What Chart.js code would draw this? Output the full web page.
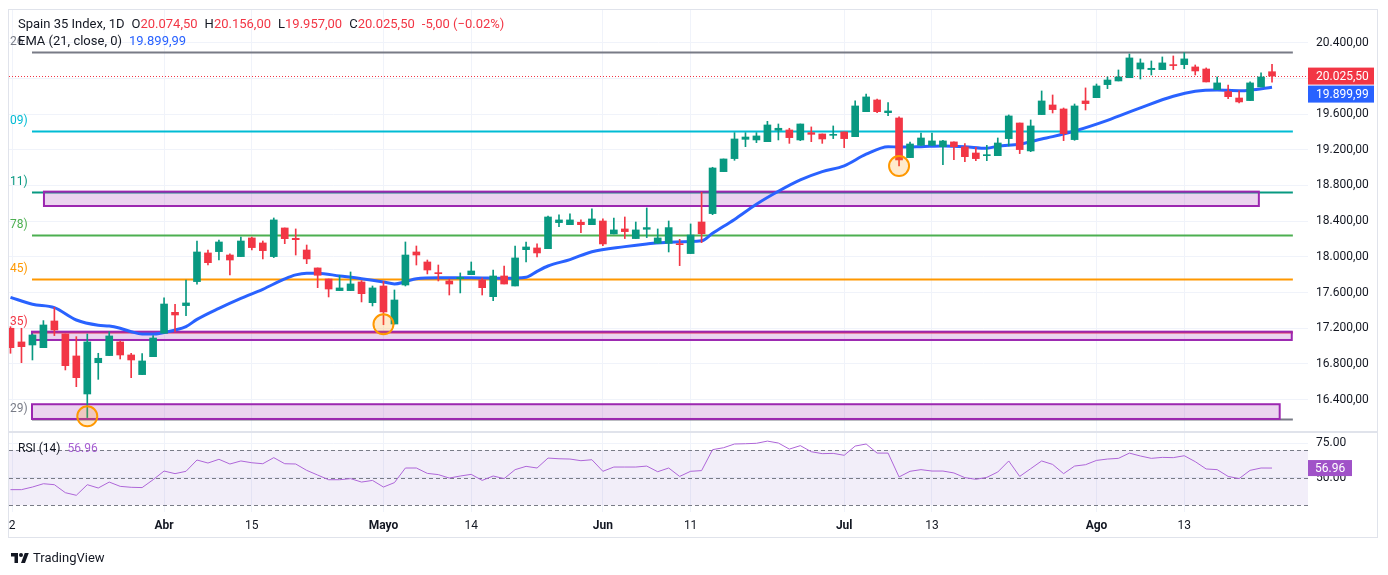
<!DOCTYPE html>
<html>
<head>
<meta charset="utf-8">
<script src="https://cdn.jsdelivr.net/npm/chart.js@4.4.1/dist/chart.umd.min.js"></script>
<style>
  html,body{margin:0;padding:0;background:#fff;}
  body{width:1388px;height:575px;overflow:hidden;position:relative;font-family:Roboto, "Noto Sans", sans-serif;color:#131722;}
  .abs{position:absolute;}
  #frame{left:8px;top:9px;width:1370px;height:529px;border:1px solid #E0E3EB;box-sizing:border-box;}
  #sep{left:9px;top:431px;width:1369px;height:2px;background:#E0E3EB;}
  .hdr{font-size:13px;white-space:nowrap;line-height:16px;}
  .r{color:#F23645;}
  .b{color:#2962FF;}
  .g{margin-left:7px;}
</style>
</head>
<body>
<div id="frame" class="abs"></div>
<canvas id="main" class="abs" style="left:9px;top:10px;" width="1370" height="422"></canvas>
<canvas id="rsi" class="abs" style="left:9px;top:432px;" width="1370" height="106"></canvas>
<div id="sep" class="abs"></div>
<div class="abs hdr" style="left:18px;top:16px;">Spain 35 Index, 1D<span class="g">O</span><span class="r">20.074,50</span><span class="g">H</span><span class="r">20.156,00</span><span class="g">L</span><span class="r">19.957,00</span><span class="g">C</span><span class="r">20.025,50</span><span class="r g">-5,00 (−0.02%)</span></div>
<div class="abs hdr" style="left:18px;top:33px;">EMA (21, close, 0)<span class="b g">19.899,99</span></div>
<div class="abs hdr" style="left:18px;top:440px;font-size:12px;">RSI (14)<span class="g" style="color:#A65FD2">56.96</span></div>
<div class="abs" style="left:10px;top:550px;display:flex;align-items:center;">
  <svg width="20" height="14" viewBox="0 0 36 28"><path d="M14 24H7V11H0V4h14v20z" fill="#131722"/><circle cx="20" cy="8" r="4" fill="#131722"/><path d="M28 24h-8l7.5-20h8L28 24z" fill="#131722"/></svg>
  <span style="font-size:13px;margin-left:3px;color:#131722;">TradingView</span>
</div>
<script>
// ---------- DATA ----------
const opens  = [17200,17047,17013,16983,17282,17136,16890,16464,16815,16894,17047,16901,16681,16882,17144,17379,17454,17723,18044,18059,18021,18003,18212,18156,18003,18324,18208,18077,17876,17752,17622,17622,17719,17487,17674,17248,17685,18055,17943,17823,17730,17756,17801,17741,17554,17786,17674,18081,18100,18092,18384,18361,18388,18361,18402,18257,18313,18205,18309,18152,18152,18148,18037,18391,18485,18955,19101,19317,19310,19291,19418,19422,19310,19392,19377,19362,19400,19347,19627,19758,19616,19556,19112,19250,19250,19235,19288,19232,19164,19134,19134,19325,19500,19187,19594,19702,19657,19314,19747,19784,19930,19971,20008,20105,20098,20098,20154,20154,20128,20105,19874,19852,19780,19751,19904,20074.5];
const highs  = [17218,17200,17136,17286,17435,17136,17106,17136,16920,17162,17058,16920,16916,17118,17540,17469,17741,18178,18077,18189,18033,18223,18223,18178,18436,18324,18313,18133,17876,17752,17794,17831,17734,17674,17726,17629,18167,18122,17965,17909,17752,17820,17943,17764,17853,17898,18122,18167,18145,18458,18470,18481,18414,18537,18425,18436,18447,18391,18548,18313,18402,18197,18369,18724,19004,19097,19392,19392,19392,19519,19489,19441,19489,19456,19377,19467,19400,19747,19825,19769,19728,19568,19287,19388,19388,19306,19288,19269,19228,19250,19332,19590,19500,19534,19859,19814,19668,19713,19893,19937,20016,20094,20273,20218,20195,20240,20251,20288,20150,20117,20016,19926,19859,19960,20061,20156];
const lows   = [16920,16815,16845,16983,17118,16733,16546,16200,16628,16894,16856,16647,16681,16882,17144,17162,17342,17693,17909,17965,17797,18003,18077,17977,17992,18148,18021,17924,17655,17551,17622,17622,17495,17450,17240,17248,17674,17909,17809,17730,17573,17596,17801,17573,17510,17696,17674,17943,17999,18092,18339,18361,18272,18361,18126,18257,18205,18205,18216,18152,18055,17902,18037,18160,18473,18955,19082,19235,19280,19291,19310,19272,19302,19291,19272,19325,19224,19347,19627,19616,19582,19018,19112,19250,19250,19034,19090,19067,19078,19078,19134,19243,19157,19179,19594,19612,19302,19306,19646,19784,19885,19971,20008,19993,20038,20098,20098,20109,20038,19960,19874,19773,19724,19751,19904,19957];
const closes = [16983,16994,17125,17237,17181,16781,16647,17047,16864,17114,16901,16845,16834,17091,17472,17349,17484,18055,17935,18167,17965,18178,18104,18070,18414,18204,18193,17977,17794,17640,17652,17697,17588,17652,17383,17517,18021,18021,17853,17812,17696,17771,17842,17655,17786,17696,17988,18111,18044,18447,18414,18414,18361,18425,18145,18302,18283,18302,18328,18212,18328,18137,18245,18260,18996,19097,19321,19343,19355,19478,19441,19336,19489,19373,19321,19373,19325,19691,19792,19627,19635,19086,19265,19332,19299,19299,19235,19123,19101,19142,19276,19579,19202,19467,19747,19650,19381,19691,19717,19915,19982,20016,20229,20173,20113,20173,20143,20218,20083,19960,19949,19795,19736,19949,20016,20025.5];

const rsiValues = [41.3,41.3,43.2,45.6,44.9,39.1,37.2,44.9,42.5,46.8,43.7,43.0,42.8,48.5,54.8,52.9,54.6,62.8,60.6,63.3,59.9,62.1,60.8,60.1,64.5,60.1,59.9,55.3,51.9,48.5,48.5,49.3,46.8,48.0,43.2,46.4,57.0,57.0,53.1,52.2,49.7,51.2,52.4,48.0,51.2,49.3,55.8,58.2,57.0,64.2,63.7,63.5,62.3,63.0,54.6,57.7,57.7,57.7,58.4,54.3,57.0,50.9,54.6,55.1,70.3,71.7,74.4,74.6,74.9,76.5,75.1,70.7,73.2,68.8,67.4,67.6,66.2,72.9,74.4,67.8,67.8,50.5,54.6,55.8,54.8,54.8,53.4,50.0,48.8,50.2,54.1,62.1,50.9,56.5,62.1,59.6,52.9,58.4,59.4,62.5,63.5,64.0,67.8,65.7,64.0,64.7,64.5,65.9,61.6,56.3,55.8,50.9,49.3,55.3,57.0,56.96];

const emaBars   = [0,2,4,6,8,9,10,11,12,13,15,16,17,19,21,23,25,26,27,28,30,32,34,35,36,37,39,42,45,47,48,49,51,53,56,58,60,63,64,66,68,70,72,74,76,78,80,81,83,85,87,89,90,92,94,95,97,100,103,106,108,110,112,113,115];
const emaValues = [17547,17469,17431,17293,17234,17226,17200,17162,17136,17136,17181,17218,17300,17424,17536,17637,17753,17798,17816,17816,17786,17756,17719,17697,17722,17756,17767,17767,17760,17772,17838,17898,17970,18058,18115,18145,18165,18180,18264,18420,18590,18735,18862,18955,19020,19150,19235,19230,19235,19243,19235,19217,19240,19262,19320,19347,19410,19530,19670,19800,19855,19870,19862,19868,19900];

const lastClose = 20025.5;
const lastEma = 19899.99;
const lastRsi = 56.96;

// horizontal levels (price) drawn from bar 2 to bar 117
const levelValues = [20300, 19414, 18731, 18249, 17756, 17162, 16184];
const levelTags   = ['26', '09)', '11)', '78)', '45)', '35)', '29)'];
const levelFrom = 1.96, levelTo = 116.9;

// zones: [fromBar, toBar, low, high]
const zones = [[3.05,113.8,18570,18731],[1.96,116.8,17069,17162],[1.96,115.7,16184,16349]];

// circled lows: [bar, price]
const markers = [[7,16214],[34,17245],[81,19018]];

const priceTicks = [16400,16800,17200,17600,18000,18400,18800,19200,19600,20000,20400];
const rsiTicks = [50,75];
const timeTickBars = [0.15,14,22,34,42,54,62,76,84,99,107];
const timeTickLabels = ['2','Abr','15','Mayo','14','Jun','11','Jul','13','Ago','13'];
const monthLabels = ['Abr','Mayo','Jun','Jul','Ago'];

// ---------- STYLE ----------
const UP = '#089981', DOWN = '#F23645';
const levelColors = ['#787B86','#00BCD4','#089981','#4CAF50','#FF9800','#F23645','#787B86'];
const GRID = '#F0F3FA';
const RSI_COLOR = '#AE66D8', RSI_BOX = '#A052C8';
const X_MIN = -0.1367, X_MAX = 118.28;
const Y_MIN = 16038, Y_MAX = 20766;

Chart.defaults.font.family = 'Roboto, "Noto Sans", sans-serif';
Chart.defaults.font.size = 12;
Chart.defaults.color = '#131722';

function fmtPrice(v){
  const p = v.toFixed(2).split('.');
  return p[0].replace(/\B(?=(\d{3})+(?!\d))/g,'.') + ',' + p[1];
}

const idx = opens.map((_,i)=>i);
const candleColors = idx.map(i => closes[i] >= opens[i] ? UP : DOWN);

const mainDecor = {
  id:'mainDecor',
  beforeDatasetsDraw(chart){
    const {ctx, chartArea:a, scales:{x,y}} = chart;
    ctx.save();
    ctx.beginPath(); ctx.rect(a.left,a.top,a.right-a.left,a.bottom-a.top); ctx.clip();
    levelValues.forEach((v,k)=>{
      const py = Math.round(y.getPixelForValue(v)) + 0.5;
      ctx.strokeStyle = levelColors[k]; ctx.lineWidth = 2;
      ctx.beginPath(); ctx.moveTo(x.getPixelForValue(levelFrom), py); ctx.lineTo(x.getPixelForValue(levelTo), py); ctx.stroke();
    });
    zones.forEach(z=>{
      const x0 = x.getPixelForValue(z[0]), x1 = x.getPixelForValue(z[1]);
      const y0 = y.getPixelForValue(z[3]), y1 = y.getPixelForValue(z[2]);
      ctx.fillStyle = 'rgba(156,39,176,0.2)';
      ctx.fillRect(x0,y0,x1-x0,y1-y0);
      ctx.strokeStyle = '#9C27B0'; ctx.lineWidth = 2;
      ctx.strokeRect(x0,y0,x1-x0,y1-y0);
    });
    const ly = Math.round(y.getPixelForValue(lastClose)) + 0.5;
    ctx.setLineDash([1,2]); ctx.strokeStyle = DOWN; ctx.lineWidth = 1;
    ctx.beginPath(); ctx.moveTo(a.left, ly); ctx.lineTo(a.right, ly); ctx.stroke();
    ctx.restore();
  },
  afterDraw(chart){
    const {ctx, chartArea:a, scales:{y}} = chart;
    ctx.save();
    ctx.font = '12px Roboto, "Noto Sans", sans-serif';
    ctx.textBaseline = 'middle'; ctx.textAlign = 'left';
    levelValues.forEach((v,k)=>{
      ctx.fillStyle = levelColors[k];
      ctx.fillText(levelTags[k], 1, y.getPixelForValue(v) - 10);
    });
    // price labels on axis
    const cy = y.getPixelForValue(lastClose);
    const bw = 66, bh = 17;
    ctx.fillStyle = DOWN; ctx.fillRect(a.right, cy - bh/2, bw, bh);
    ctx.fillStyle = '#fff'; ctx.fillText(fmtPrice(lastClose), a.right + 8, cy + 0.5);
    const ey = cy + bh/2 + 1 + bh/2;
    ctx.fillStyle = '#2962FF'; ctx.fillRect(a.right, ey - bh/2, bw, bh);
    ctx.fillStyle = '#fff'; ctx.fillText(fmtPrice(lastEma), a.right + 8, ey + 0.5);
    ctx.restore();
  }
};

new Chart(document.getElementById('main'), {
  type:'bar',
  data:{ datasets:[
    { type:'scatter', data: markers.map(m=>({x:m[0], y:m[1]})), pointRadius:10, pointHoverRadius:10,
      backgroundColor:'rgba(255,152,0,0.2)', borderColor:'#FF9800', borderWidth:2, order:-1, clip:false },
    { type:'bar', data: idx.map(i=>({x:i, y:[opens[i], closes[i]]})), backgroundColor:candleColors,
      barThickness:7, grouped:false, minBarLength:1, borderWidth:0, order:0 },
    { type:'bar', data: idx.map(i=>({x:i, y:[lows[i], highs[i]]})), backgroundColor:candleColors,
      barThickness:1, grouped:false, borderWidth:0, order:1 },
    { type:'line', data: emaBars.map((b,k)=>({x:b, y:emaValues[k]})), borderColor:'#2962FF', borderWidth:3,
      pointRadius:0, cubicInterpolationMode:'monotone', fill:false, order:2 }
  ]},
  options:{
    responsive:false, animation:false,
    layout:{padding:0, autoPadding:false},
    plugins:{legend:{display:false}, tooltip:{enabled:false}},
    scales:{
      x:{ type:'linear', min:X_MIN, max:X_MAX, offset:false,
          grid:{color:GRID, offset:false, drawTicks:false}, border:{display:false},
          ticks:{display:false},
          afterBuildTicks:s=>{ s.ticks = timeTickBars.map(v=>({value:v})); },
          afterFit:s=>{ s.height = 0; s.paddingLeft = 0; s.paddingRight = 0; } },
      y:{ type:'linear', position:'right', min:Y_MIN, max:Y_MAX, beginAtZero:false,
          grid:{color:GRID, drawTicks:false}, border:{display:false},
          ticks:{padding:8, callback:v=>fmtPrice(v), color:'#131722'},
          afterBuildTicks:s=>{ s.ticks = priceTicks.map(v=>({value:v})); },
          afterFit:s=>{ s.width = 71; s.paddingTop = 0; s.paddingBottom = 0; } }
    }
  },
  plugins:[mainDecor]
});

const rsiDecor = {
  id:'rsiDecor',
  beforeDatasetsDraw(chart){
    const {ctx, chartArea:a, scales:{y}} = chart;
    ctx.save();
    const y70 = y.getPixelForValue(70), y30 = y.getPixelForValue(30);
    ctx.fillStyle = 'rgba(126,87,194,0.1)';
    ctx.fillRect(a.left, y70, a.right-a.left, y30-y70);
    ctx.setLineDash([4,3]); ctx.strokeStyle = '#787B86'; ctx.lineWidth = 1;
    [70,50,30].forEach(v=>{
      const py = Math.round(y.getPixelForValue(v)) + 0.5;
      ctx.beginPath(); ctx.moveTo(a.left, py); ctx.lineTo(a.right, py); ctx.stroke();
    });
    ctx.restore();
  },
  afterDraw(chart){
    const {ctx, chartArea:a, scales:{y}} = chart;
    ctx.save();
    const cy = y.getPixelForValue(lastRsi);
    ctx.fillStyle = RSI_BOX; ctx.fillRect(a.right, cy - 8, 44, 16);
    ctx.fillStyle = '#fff'; ctx.font = '12px Roboto, "Noto Sans", sans-serif';
    ctx.textBaseline = 'middle'; ctx.textAlign = 'left';
    ctx.fillText(lastRsi.toFixed(2), a.right + 7, cy + 0.5);
    ctx.restore();
  }
};

new Chart(document.getElementById('rsi'), {
  type:'line',
  data:{ datasets:[
    { data: rsiValues.map((v,i)=>({x:i, y:v})), borderColor:RSI_COLOR, borderWidth:1, pointRadius:0, fill:false, tension:0 }
  ]},
  options:{
    responsive:false, animation:false,
    layout:{padding:0, autoPadding:false},
    plugins:{legend:{display:false}, tooltip:{enabled:false}},
    scales:{
      x:{ type:'linear', min:X_MIN, max:X_MAX, offset:false,
          grid:{color:GRID, drawTicks:false}, border:{display:false},
          ticks:{autoSkip:false, maxRotation:0, padding:7, color:'#131722',
                 callback:(v,i)=>timeTickLabels[i],
                 font:(c)=>({weight: (c.tick && monthLabels.includes(timeTickLabels[c.index])) ? 'bold' : 'normal'})},
          afterBuildTicks:s=>{ s.ticks = timeTickBars.map(v=>({value:v})); },
          afterFit:s=>{ s.height = 26; s.paddingLeft = 0; s.paddingRight = 0; } },
      y:{ type:'linear', position:'right', min:25.1, max:83.1,
          grid:{color:GRID, drawTicks:false}, border:{display:false},
          ticks:{padding:8, callback:v=>v.toFixed(2), color:'#131722'},
          afterBuildTicks:s=>{ s.ticks = rsiTicks.map(v=>({value:v})); },
          afterFit:s=>{ s.width = 71; s.paddingTop = 0; s.paddingBottom = 0; } }
    }
  },
  plugins:[rsiDecor]
});
</script>
</body>
</html>
